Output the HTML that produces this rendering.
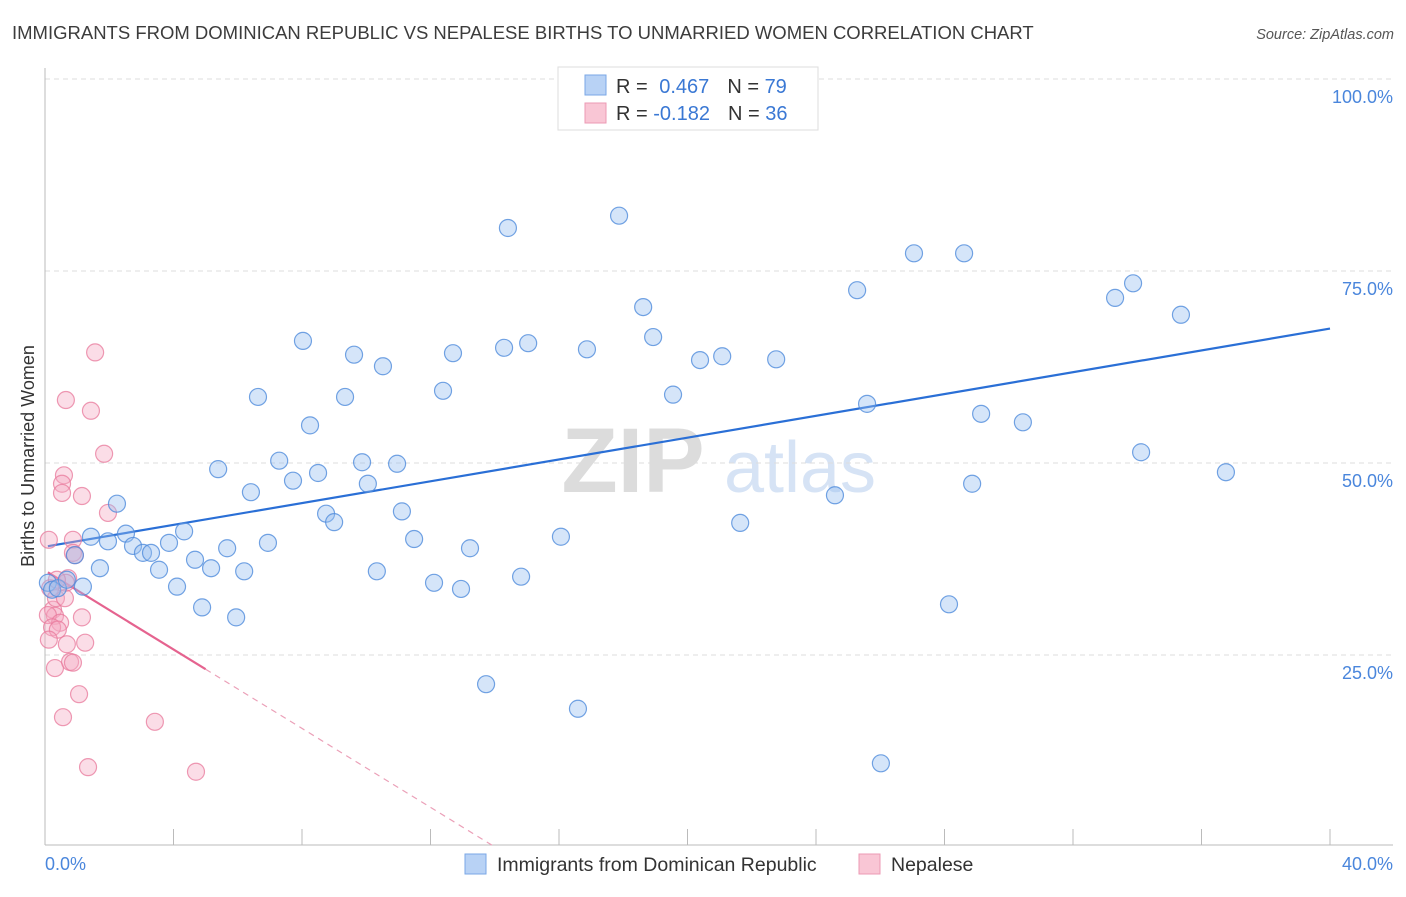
<!DOCTYPE html>
<html><head><meta charset="utf-8"><style>
body{margin:0;background:#fff;font-family:"Liberation Sans",sans-serif}
svg text{font-family:"Liberation Sans",sans-serif}
</style></head><body>
<svg id="chart" width="1406" height="892">
<text x="12" y="39" font-size="18.5" fill="#3c3c3c">IMMIGRANTS FROM DOMINICAN REPUBLIC VS NEPALESE BIRTHS TO UNMARRIED WOMEN CORRELATION CHART</text>
<text x="1394" y="39" font-size="14.5" fill="#555" text-anchor="end" font-style="italic">Source: ZipAtlas.com</text>
<text x="34" y="456" font-size="18" fill="#333" text-anchor="middle" transform="rotate(-90 34 456)">Births to Unmarried Women</text>
<g>
<text x="633" y="492" font-size="92" fill="#dcdcdc" text-anchor="middle" font-family="Liberation Serif" font-weight="bold">ZIP</text>
<text x="800" y="492" font-size="72" fill="#d6e3f5" text-anchor="middle">atlas</text>
</g>
<g id="grid"></g><g id="axes"></g><g id="trend"></g><g id="points"></g>
<g>
<rect x="558" y="67" width="260" height="63" fill="#fff" stroke="#ddd"/>
<rect x="585" y="75" width="21" height="20" fill="#b8d2f5" stroke="#7aa7e6"/>
<rect x="585" y="103" width="21" height="20" fill="#f9c6d5" stroke="#ec9ab4"/>
<text x="616" y="93" font-size="20" fill="#333">R = <tspan fill="#3a78d4" dx="6">0.467</tspan><tspan dx="18" fill="#333">N = </tspan><tspan fill="#3a78d4">79</tspan></text>
<text x="616" y="120" font-size="20" fill="#333">R = <tspan fill="#3a78d4">-0.182</tspan><tspan dx="18" fill="#333">N = </tspan><tspan fill="#3a78d4">36</tspan></text>
</g>
<g>
<rect x="465" y="854" width="21" height="20" fill="#b8d2f5" stroke="#7aa7e6"/>
<text x="497" y="871" font-size="19.5" fill="#333">Immigrants from Dominican Republic</text>
<rect x="859" y="854" width="21" height="20" fill="#f9c6d5" stroke="#ec9ab4"/>
<text x="891" y="871" font-size="19.5" fill="#333">Nepalese</text>
</g>
</svg>
<script>
const blueX=[0.09,0.22,0.40,0.68,0.93,1.18,1.43,1.71,1.96,2.24,2.52,2.74,3.05,3.30,3.55,3.86,4.11,4.33,4.67,4.89,5.17,5.39,5.67,5.95,6.20,6.41,6.63,6.94,7.29,7.72,8.03,8.25,8.50,8.75,9.00,9.34,9.62,9.87,10.05,10.33,10.52,10.96,11.11,11.49,12.11,12.39,12.70,12.95,13.23,13.73,14.29,14.41,14.82,15.04,16.06,16.59,16.87,17.87,18.62,18.93,19.55,20.39,21.08,21.64,22.76,24.59,25.28,25.59,26.02,27.05,28.14,28.61,28.86,29.14,30.44,33.31,33.87,34.12,35.36,36.76];
const blueY=[34.4,33.5,33.7,34.8,38.0,33.9,40.4,36.3,39.8,44.7,40.8,39.2,38.3,38.3,36.1,39.6,33.9,41.1,37.4,31.2,36.3,49.2,38.9,29.9,35.9,46.2,58.6,39.6,50.3,47.7,65.9,54.9,48.7,43.4,42.3,58.6,64.1,50.1,47.3,35.9,62.6,49.9,43.7,40.1,34.4,59.4,64.3,33.6,38.9,21.2,65.0,80.6,35.2,65.6,40.4,18.0,64.8,82.2,70.3,66.4,58.9,63.4,63.9,42.2,63.5,45.8,72.5,57.7,10.9,77.3,31.6,77.3,47.3,56.4,55.3,71.5,73.4,51.4,69.3,48.8];
const pinkX=[1.56,0.65,1.43,1.84,0.59,0.53,0.53,1.15,1.96,0.87,0.12,0.87,0.93,0.72,0.65,0.16,0.25,0.31,0.09,0.47,0.22,0.40,1.15,0.12,0.68,1.25,0.31,0.78,0.87,1.06,0.56,3.42,1.34,4.70,0.37,0.34,0.62];
const pinkY=[64.4,58.2,56.8,51.2,48.4,47.3,46.1,45.7,43.5,40.0,40.0,38.3,38.0,35.0,34.4,33.7,30.9,30.1,30.2,29.2,28.6,28.3,29.9,27.0,26.4,26.6,23.3,24.1,24.0,19.9,16.9,16.3,10.4,9.8,34.8,32.4,32.4];
const yTicks=[25,50,75,100];
const xTicks=[0,4,8,12,16,20,24,28,32,36,40];
const blueTrend=[39.1,0.71]; // intercept, slope
const pinkTrend=[36.0,-2.57];
const pinkSolidEnd=5.0;

const NS="http://www.w3.org/2000/svg";
const sx=v=>45+v/40*1285, sy=v=>847-v/100*768;
function mk(tag,attrs,parent){const e=document.createElementNS(NS,tag);for(const k in attrs)e.setAttribute(k,attrs[k]);parent.appendChild(e);return e;}
const grid=document.getElementById('grid'),axes=document.getElementById('axes'),trend=document.getElementById('trend'),pts=document.getElementById('points');
yTicks.forEach(t=>{
 const l=mk('line',{x1:45,x2:1393,y1:sy(t),y2:sy(t),stroke:'#ddd','stroke-dasharray':'5,4'},grid);
 
 
 const tx=mk('text',{x:1393,y:sy(t)+24,'font-size':18,fill:'#4a86dc','text-anchor':'end'},axes);
 tx.textContent=t.toFixed(1)+'%';
 
 
});
const ax=mk('line',{x1:45,x2:1393,y1:845,y2:845,stroke:'#bbb'},axes);


const ay=mk('line',{x1:45,x2:45,y1:68,y2:845,stroke:'#bbb'},axes);


xTicks.forEach(t=>{
 const l=mk('line',{x1:sx(t),x2:sx(t),y1:829,y2:845,stroke:'#bbb'},axes);
 
 
});
[[0,'start'],[40,'end']].forEach(([t,a])=>{
 const tx=mk('text',{x:t===0?45:1393,y:870,'font-size':18,fill:'#4a86dc','text-anchor':a},axes);
 tx.textContent=t.toFixed(1)+'%';
 
 
});
function draw(xs,ys,fill,stroke,name){
 xs.forEach((x,i)=>{
  const c=mk('circle',{cx:sx(x),cy:sy(ys[i]),r:8.5,fill:fill,stroke:stroke,'stroke-width':1.2},pts);
  
  
 });
}
draw(pinkX,pinkY,'rgba(246,170,195,0.4)','rgba(232,120,155,0.75)','nepalese-point');
draw(blueX,blueY,'rgba(150,190,240,0.4)','rgba(80,140,220,0.8)','dominican-point');
const bl=mk('line',{x1:sx(0.09),y1:sy(blueTrend[0]+blueTrend[1]*0.09),x2:sx(40),y2:sy(blueTrend[0]+blueTrend[1]*40),stroke:'#2a6fd6','stroke-width':2.2},trend);


const pinkZero=-pinkTrend[0]/pinkTrend[1];
const pl=mk('line',{x1:sx(0.09),y1:sy(pinkTrend[0]+pinkTrend[1]*0.09),x2:sx(pinkSolidEnd),y2:sy(pinkTrend[0]+pinkTrend[1]*pinkSolidEnd),stroke:'#e5638f','stroke-width':2.2},trend);


const pd=mk('line',{x1:sx(pinkSolidEnd),y1:sy(pinkTrend[0]+pinkTrend[1]*pinkSolidEnd),x2:sx(pinkZero),y2:sy(0),stroke:'#eba0b8','stroke-width':1.2,'stroke-dasharray':'6,5'},trend);


</script>
</body></html>
